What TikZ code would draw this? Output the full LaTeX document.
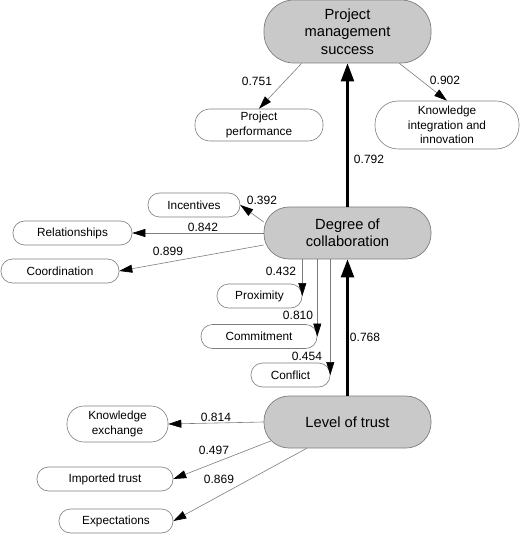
\documentclass[tikz,border=0pt]{standalone}
\usepackage{fontspec}
\setmainfont{Liberation Sans}
\usetikzlibrary{arrows.meta}
\definecolor{mygrey}{RGB}{201,201,202}
\definecolor{myline}{RGB}{125,125,125}

\begin{document}
\begin{tikzpicture}[x=1pt,y=-1pt,
mainb/.style={
  draw=myline,
  fill=mygrey,
  line width=0.7pt,
  rounded corners=25pt,
  inner sep=0pt,
  minimum width=167pt,
  minimum height=52pt,
  align=center,
  font={\fontsize{14.7}{17.5}\selectfont}},
smallb/.style={
  draw=myline,
  fill=white,
  line width=0.6pt,
  rounded corners=11.5pt,
  inner sep=0pt,
  minimum height=24pt,
  align=center,
  font={\fontsize{11.8}{14.3}\selectfont}},
lbl/.style={inner sep=0pt,font={\fontsize{12}{14}\selectfont}},
conn/.style={draw=myline,line width=0.6pt,-{Triangle[length=13pt,width=8pt,black]}},
thick conn/.style={draw=black,line width=2.2pt,-{Triangle[length=18pt,width=13pt]}},
]
\useasboundingbox (0,0) rectangle (520,534);
\node[mainb,minimum height=63pt,rounded corners=30pt] (PMS) at (347.5,31.5) {Project\\management\\success};
\node[mainb] (DoC) at (347.5,233) {Degree of\\collaboration};
\node[mainb] (LoT) at (347.5,422) {Level of trust};
\node[smallb,minimum width=128pt,minimum height=32pt,rounded corners=15pt] (PP) at (259,125) {Project\\performance};
\node[smallb,minimum width=144pt,minimum height=48pt,rounded corners=23pt] (KI) at (447,125) {Knowledge\\integration and\\innovation};
\node[smallb,minimum width=92pt] (Inc) at (194,205) {Incentives};
\node[smallb,minimum width=119pt] (Rel) at (72.5,233) {Relationships};
\node[smallb,minimum width=118pt] (Coo) at (60,271) {Coordination};
\node[smallb,minimum width=85pt] (Pro) at (259.5,296) {Proximity};
\node[smallb,minimum width=116pt] (Com) at (259,336.5) {Commitment};
\node[smallb,minimum width=79pt] (Con) at (290.5,375) {Conflict};
\node[smallb,minimum width=101pt,minimum height=36pt,rounded corners=17pt] (KEx) at (117.5,424) {Knowledge\\exchange};
\node[smallb,minimum width=136pt] (ImT) at (105,479) {Imported trust};
\node[smallb,minimum width=114pt] (Exp) at (116,521) {Expectations};

\draw[thick conn] (DoC) -- (PMS);
\draw[thick conn] (LoT) -- (DoC);
\draw[conn] ([xshift=38pt]PMS.south west) -- (PP.north);
\draw[conn] ([xshift=-32pt]PMS.south east) -- (KI.north);
\draw[conn] ([yshift=11pt]DoC.west) -- (Inc.east);
\draw[conn] (DoC.west) -- (Rel.east);
\draw[conn] ([yshift=-12pt]DoC.west) -- (Coo.east);
\draw[conn] (DoC.south -| Pro.east) -- (Pro.east);
\draw[conn] (DoC.south -| Com.east) -- (Com.east);
\draw[conn] (DoC.south -| Con.east) -- (Con.east);
\draw[conn] (LoT.west) -- (KEx.east);
\draw[conn] ([xshift=7pt,yshift=-19pt]LoT.west) -- (ImT.east);
\draw[conn] ([xshift=43pt]LoT.south west) -- (Exp.east);

\node[lbl] (l751) at (257,81) {0.751};
\node[lbl] (l902) at (445,80) {0.902};
\node[lbl] (l792) at (369,159) {0.792};
\node[lbl] (l392) at (262,200) {0.392};
\node[lbl] (l842) at (203,227) {0.842};
\node[lbl] (l899) at (168,251) {0.899};
\node[lbl] (l432) at (281,271) {0.432};
\node[lbl] (l810) at (298,315) {0.810};
\node[lbl] (l454) at (307,356) {0.454};
\node[lbl] (l768) at (365,337) {0.768};
\node[lbl] (l814) at (216,417) {0.814};
\node[lbl] (l497) at (214,450) {0.497};
\node[lbl] (l869) at (219,479) {0.869};
\end{tikzpicture}
\end{document}
